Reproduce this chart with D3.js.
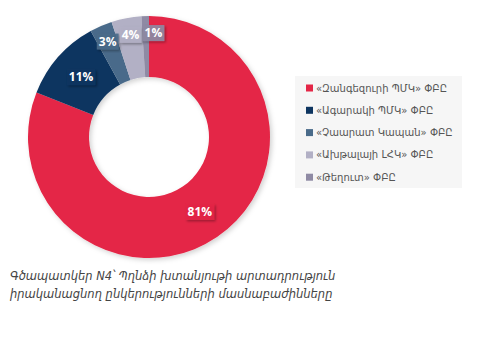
<!DOCTYPE html>
<html>
<head>
<meta charset="utf-8">
<script src="https://cdn.jsdelivr.net/npm/d3@7"></script>
<style>
  html, body { margin: 0; padding: 0; background: #fff; }
  svg { display: block; }
</style>
</head>
<body>
<div id="chart"></div>
<script>
// Ընկերություններ և մասնաբաժիններ
const companies = ["«Զանգեզուրի ՊՄԿ» ՓԲԸ", "«Ագարակի ՊՄԿ» ՓԲԸ", "«Չաարատ Կապան» ՓԲԸ", "«Ախթալայի ԼՀԿ» ՓԲԸ", "«Թեղուտ» ՓԲԸ"]
const shares = [81, 11, 3, 4, 1]
const colors = ["#E42646", "#0E3560", "#4A6B8A", "#B2B0C5", "#8F8AA4"]
const captionLines = ["Գծապատկեր N4՝ Պղնձի խտանյութի արտադրություն", "իրականացնող ընկերությունների մասնաբաժինները"]

const width = 503, height = 351
const cx = 149, cy = 137, outerR = 121, innerR = 60

const svg = d3.select("#chart").append("svg")
  .attr("width", width)
  .attr("height", height)

const defs = svg.append("defs")
const shadow = defs.append("filter").attr("id", "shadow")
  .attr("x", "-20%").attr("y", "-20%").attr("width", "140%").attr("height", "140%")
shadow.append("feDropShadow")
  .attr("dx", 1.5).attr("dy", 1.5).attr("stdDeviation", 1)
  .attr("flood-color", "#000").attr("flood-opacity", 0.35)
const softShadow = defs.append("filter").attr("id", "soft")
  .attr("x", "-10%").attr("y", "-10%").attr("width", "120%").attr("height", "120%")
softShadow.append("feDropShadow")
  .attr("dx", 2).attr("dy", 2).attr("stdDeviation", 2.5)
  .attr("flood-color", "#000").attr("flood-opacity", 0.18)

const data = companies.map((name, i) => ({ name, value: shares[i], color: colors[i] }))

const pie = d3.pie().value(d => d.value).sort(null)
const arc = d3.arc().innerRadius(innerR).outerRadius(outerR)

const g = svg.append("g").attr("transform", `translate(${cx},${cy})`)

g.append("g").attr("filter", "url(#soft)")
  .selectAll("path")
  .data(pie(data))
  .join("path")
  .attr("d", arc)
  .attr("fill", d => d.data.color)

// Պիտակներ - փոքր հատվածների պիտակները դուրս են հրված
const labelArc = d3.arc().innerRadius(90.5).outerRadius(90.5)
const farArc = d3.arc().innerRadius(104).outerRadius(104)

const arcs = pie(data)
arcs.forEach(d => { d.pos = (d.data.value < 5 ? farArc : labelArc).centroid(d) })

const labels = g.append("g")
  .selectAll("g")
  .data(arcs)
  .join("g")

labels.append("text")
  .text(d => d.data.value + "%")
  .attr("text-anchor", "middle")
  .attr("dy", "0.36em")
  .attr("font-family", "'Open Sans', 'DejaVu Sans', sans-serif")
  .attr("font-weight", "bold")
  .attr("font-size", "12px")
  .attr("fill", "#fff")
  .each(function(d) { d.w = this.getBBox().width + 4 })

// Կպչող պիտակները հրել աջ
let prevRight = -Infinity
arcs.forEach(d => {
  if (d.data.value < 5) {
    const left = d.pos[0] - d.w / 2
    if (left < prevRight + 1) d.pos[0] += prevRight + 1 - left
    prevRight = d.pos[0] + d.w / 2
  }
})

labels.attr("transform", d => `translate(${d.pos[0]},${d.pos[1]})`)

labels.insert("rect", "text")
  .attr("x", d => -d.w / 2)
  .attr("y", -8)
  .attr("width", d => d.w)
  .attr("height", 16)
  .attr("fill", d => d.data.color)
  .attr("fill-opacity", 0.9)
  .attr("filter", "url(#shadow)")

// Լեգենդ
const legend = svg.append("g").attr("transform", "translate(295,76)")
legend.append("rect")
  .attr("width", 167).attr("height", 112)
  .attr("fill", "#F6F6F6")

const items = legend.selectAll(".item")
  .data(data)
  .join("g")
  .attr("class", "item")
  .attr("transform", (d, i) => `translate(11,${12 + i * 22.3})`)

items.append("rect")
  .attr("x", 0).attr("y", -3.5)
  .attr("width", 7).attr("height", 7)
  .attr("fill", d => d.color)

items.append("text")
  .attr("x", 10)
  .attr("dy", "0.35em")
  .attr("font-family", "'DejaVu Sans', sans-serif")
  .attr("font-size", "10px")
  .attr("fill", "#555")
  .text(d => d.name)

// Վերնագիր
svg.append("g")
  .selectAll("text")
  .data(captionLines)
  .join("text")
  .attr("x", 10)
  .attr("y", (d, i) => 280 + i * 18)
  .attr("font-family", "'DejaVu Sans', sans-serif")
  .attr("font-style", "italic")
  .attr("font-size", "11.5px")
  .attr("fill", "#444")
  .text(d => d)
</script>
</body>
</html>
